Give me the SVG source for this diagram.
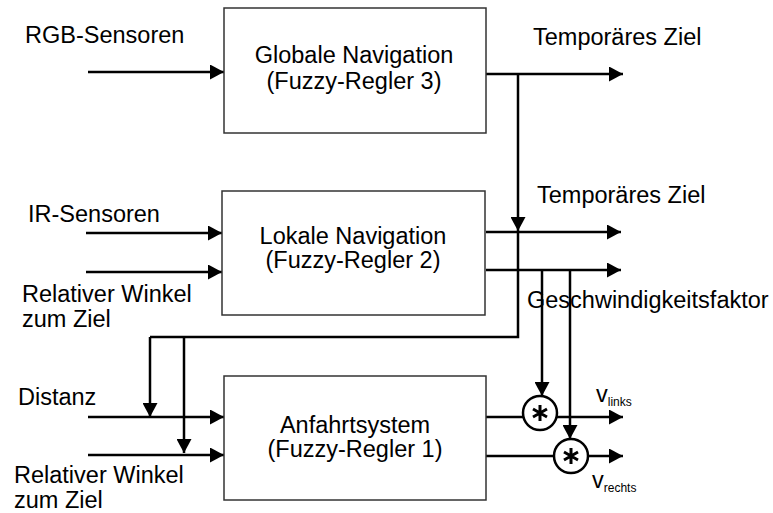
<svg xmlns="http://www.w3.org/2000/svg" width="773" height="513" viewBox="0 0 773 513">
<defs>
<marker id="ah" markerWidth="14" markerHeight="15" refX="14" refY="7.5" orient="auto" markerUnits="userSpaceOnUse">
<path d="M0,0 L14,7.5 L0,15 Z" fill="#000"/>
</marker>
<style>
.box{fill:#fff;stroke:#333;stroke-width:1.5}
.t{font-family:"Liberation Sans",Arial,sans-serif;font-size:23.5px;fill:#000}
.c{text-anchor:middle}
.sub{font-family:"Liberation Sans",Arial,sans-serif;font-size:12px;fill:#000}
.ln{fill:none;stroke:#000;stroke-width:2.5}
.ar{fill:none;stroke:#000;stroke-width:2.5;marker-end:url(#ah)}
.op{fill:#fff;stroke:#000;stroke-width:2.5}
.star{fill:none;stroke:#000;stroke-width:3}
</style>
</defs>
<rect width="773" height="513" fill="#fff"/>

<g id="connectors">
<path class="ar" d="M88,72 H224"/>
<path class="ar" d="M486,74 H623"/>
<path class="ar" d="M518,74 V231"/>
<path class="ln" d="M518,231 V337 H150"/>
<path class="ar" d="M86,233 H222"/>
<path class="ar" d="M86,272 H222"/>
<path class="ar" d="M486,232 H621"/>
<path class="ar" d="M486,270 H621"/>
<path class="ar" d="M150,337 V417"/>
<path class="ar" d="M184,337 V453"/>
<path class="ar" d="M88,417 H224"/>
<path class="ar" d="M88,455 H224"/>
<path class="ar" d="M542,270 V396"/>
<path class="ar" d="M570,270 V439"/>
<path class="ar" d="M486,417 H623"/>
<path class="ar" d="M486,456 H623"/>
</g>

<g id="node-global">
<rect class="box" x="224" y="8" width="262" height="125"/>
<text class="t c" x="354" y="63">Globale Navigation</text>
<text class="t c" x="354" y="89">(Fuzzy-Regler 3)</text>
</g>
<g id="node-lokal">
<rect class="box" x="222" y="191" width="263" height="124"/>
<text class="t c" x="353" y="244">Lokale Navigation</text>
<text class="t c" x="353" y="268">(Fuzzy-Regler 2)</text>
</g>
<g id="node-anfahrt">
<rect class="box" x="224" y="376" width="262" height="124"/>
<text class="t c" x="355" y="433">Anfahrtsystem</text>
<text class="t c" x="355" y="457">(Fuzzy-Regler 1)</text>
</g>

<g id="mult-links">
<circle class="op" cx="540" cy="413" r="17"/>
<path class="star" d="M540,405 V421 M533,409 L547,417 M533,417 L547,409"/>
</g>
<g id="mult-rechts">
<circle class="op" cx="571" cy="456" r="17"/>
<path class="star" d="M571,448 V464 M564,452 L578,460 M564,460 L578,452"/>
</g>

<g id="labels">
<text class="t" x="25" y="43">RGB-Sensoren</text>
<text class="t" x="533" y="45">Temporäres Ziel</text>
<text class="t" x="537" y="203">Temporäres Ziel</text>
<text class="t" x="28" y="222">IR-Sensoren</text>
<text class="t" x="22" y="302">Relativer Winkel</text>
<text class="t" x="22" y="327">zum Ziel</text>
<text class="t" x="527" y="308">Geschwindigkeitsfaktor</text>
<text class="t" x="18" y="405">Distanz</text>
<text class="t" x="14" y="483" font-size="23">Relativer Winkel</text>
<text class="t" x="14" y="508" font-size="23">zum Ziel</text>
<text class="t" x="596" y="402">v<tspan class="sub" dy="4">links</tspan></text>
<text class="t" x="592" y="488">v<tspan class="sub" dy="4">rechts</tspan></text>
</g>
</svg>
